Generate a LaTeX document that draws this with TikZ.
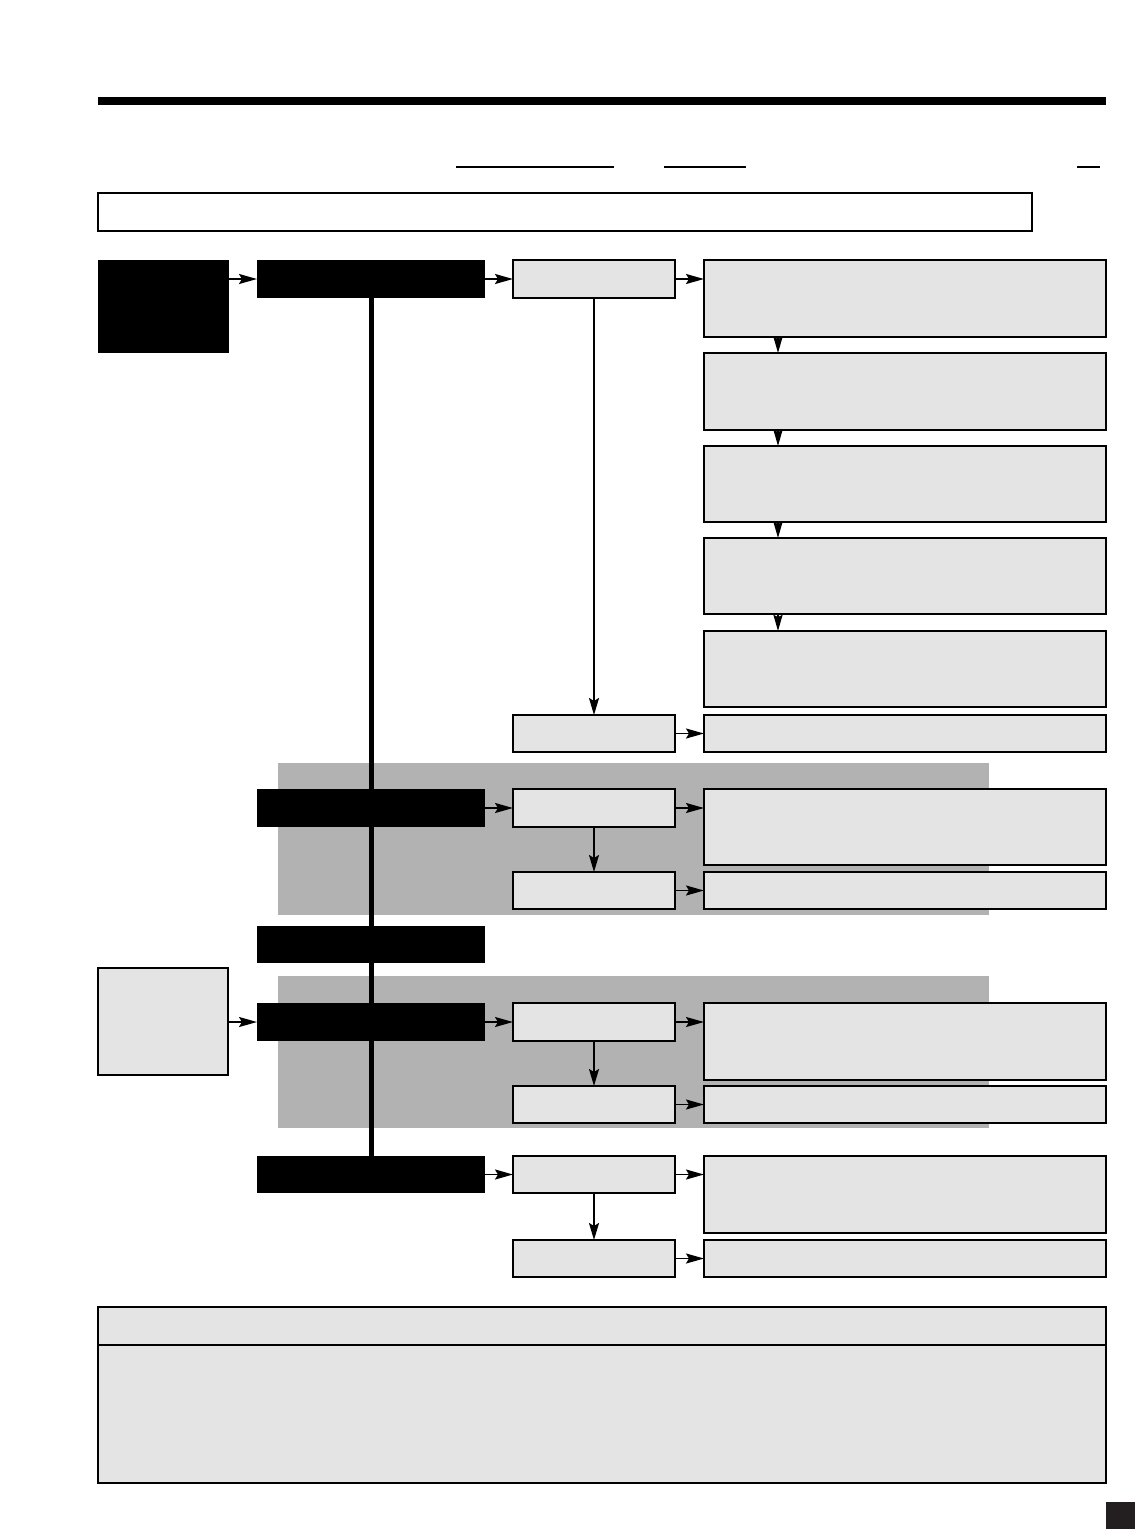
\documentclass[tikz,border=0pt]{standalone}
\usetikzlibrary{arrows.meta}
\definecolor{lgray}{HTML}{E4E4E4}
\definecolor{band}{HTML}{B2B2B2}
\definecolor{tabblk}{HTML}{231F20}
\begin{document}
\begin{tikzpicture}[x=1pt,y=-1pt,
  every node/.style={inner sep=0pt,outer sep=0pt,anchor=north west},
  blk/.style={fill=black,draw=none},
  gbox/.style={fill=lgray,draw=black,line width=1.6pt},
  bandbox/.style={fill=band,draw=none},
  arr/.style={line width=1.8pt,-{Stealth[length=18pt,width=10pt,inset=3pt]}},
  varr/.style={line width=1.8pt,-{Stealth[length=17pt,width=10pt,inset=3pt]}},
  sarr/.style={line width=1.8pt,-{Stealth[length=16pt,width=9pt,inset=2pt]}},
  spine/.style={line width=5pt}]
\useasboundingbox (0,0) rectangle (1135,1529);
% header
\fill (98,97) rectangle (1106,105);
\draw[line width=1.5pt] (456,167) -- (614,167);
\draw[line width=1.5pt] (664,167) -- (746,167);
\draw[line width=1.5pt] (1077,167) -- (1100,167);
\draw[line width=1.6pt,fill=white] (98,193) rectangle (1032,231);
% bands
\node[bandbox,minimum width=711pt,minimum height=152pt] (band1) at (278,763) {};
\node[bandbox,minimum width=711pt,minimum height=152pt] (band2) at (278,976) {};
% row 1
\node[blk,minimum width=131pt,minimum height=93pt] (A) at (98,260) {};
\node[blk,minimum width=228pt,minimum height=38pt] (B1) at (257,260) {};
\node[gbox,minimum width=162pt,minimum height=38pt] (C1) at (513,260) {};
\node[gbox,minimum width=402pt,minimum height=77pt] (D1) at (704,260) {};
\node[gbox,minimum width=402pt,minimum height=77pt] (D2) at (704,353) {};
\node[gbox,minimum width=402pt,minimum height=76pt] (D3) at (704,446) {};
\node[gbox,minimum width=402pt,minimum height=76pt] (D4) at (704,538) {};
\node[gbox,minimum width=402pt,minimum height=76pt] (D5) at (704,631) {};
\node[gbox,minimum width=162pt,minimum height=37pt] (E1) at (513,715) {};
\node[gbox,minimum width=402pt,minimum height=37pt] (F1) at (704,715) {};
% row 2
\node[blk,minimum width=228pt,minimum height=38pt] (B2) at (257,789) {};
\node[gbox,minimum width=162pt,minimum height=38pt] (C2) at (513,789) {};
\node[gbox,minimum width=402pt,minimum height=76pt] (D2b) at (704,789) {};
\node[gbox,minimum width=162pt,minimum height=37pt] (E2) at (513,872) {};
\node[gbox,minimum width=402pt,minimum height=37pt] (F2) at (704,872) {};
% row 3
\node[blk,minimum width=228pt,minimum height=37pt] (B3) at (257,926) {};
% row 4
\node[gbox,minimum width=130pt,minimum height=107pt] (G) at (98,968) {};
\node[blk,minimum width=228pt,minimum height=38pt] (B4) at (257,1003) {};
\node[gbox,minimum width=162pt,minimum height=38pt] (C4) at (513,1003) {};
\node[gbox,minimum width=402pt,minimum height=77pt] (D4b) at (704,1003) {};
\node[gbox,minimum width=162pt,minimum height=37pt] (E4) at (513,1086) {};
\node[gbox,minimum width=402pt,minimum height=37pt] (F4) at (704,1086) {};
% row 5
\node[blk,minimum width=228pt,minimum height=37pt] (B5) at (257,1156) {};
\node[gbox,minimum width=162pt,minimum height=37pt] (C5) at (513,1156) {};
\node[gbox,minimum width=402pt,minimum height=77pt] (D5b) at (704,1156) {};
\node[gbox,minimum width=162pt,minimum height=37pt] (E5) at (513,1240) {};
\node[gbox,minimum width=402pt,minimum height=37pt] (F5) at (704,1240) {};
% bottom box
\node[gbox,minimum width=1008pt,minimum height=176pt] (bot) at (98,1307) {};
\coordinate (divL) at (98,1345);
\coordinate (divR) at (1106,1345);
\draw[line width=1.6pt] (divL) -- (divR);
% page tab
\fill[tabblk] (1106,1502) rectangle (1135,1529);
% spine
\draw[spine] (B1.south) -- (B5.north);
% connectors
\draw[arr] (A.east |- B1.west) -- (B1.west);
\draw[arr] (B1.east) -- (C1.west);
\draw[arr] (C1.east) -- (C1.east -| D1.west);
\draw[sarr] ([xshift=74pt]D1.south west) -- ([xshift=74pt]D2.north west);
\draw[sarr] ([xshift=74pt]D2.south west) -- ([xshift=74pt]D3.north west);
\draw[sarr] ([xshift=74pt]D3.south west) -- ([xshift=74pt]D4.north west);
\draw[sarr] ([xshift=74pt]D4.south west) -- ([xshift=74pt]D5.north west);
\draw[varr] (C1.south) -- (E1.north);
\draw[arr] (E1.east) -- (F1.west);
\draw[arr] (B2.east) -- (C2.west);
\draw[arr] (C2.east) -- (C2.east -| D2b.west);
\draw[varr] (C2.south) -- (E2.north);
\draw[arr] (E2.east) -- (F2.west);
\draw[arr] (G.east |- B4.west) -- (B4.west);
\draw[arr] (B4.east) -- (C4.west);
\draw[arr] (C4.east) -- (C4.east -| D4b.west);
\draw[varr] (C4.south) -- (E4.north);
\draw[arr] (E4.east) -- (F4.west);
\draw[arr] (B5.east) -- (C5.west);
\draw[arr] (C5.east) -- (C5.east -| D5b.west);
\draw[varr] (C5.south) -- (E5.north);
\draw[arr] (E5.east) -- (F5.west);
\end{tikzpicture}
\end{document}
